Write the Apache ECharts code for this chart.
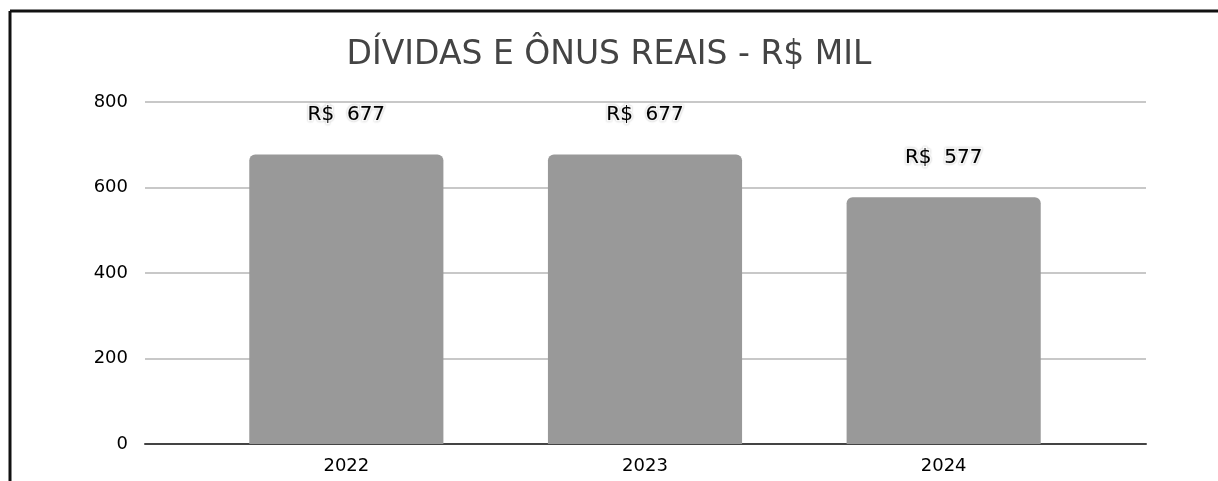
<!DOCTYPE html>
<html>
<head>
<meta charset="utf-8">
<script src="https://cdn.jsdelivr.net/npm/echarts@6/dist/echarts.min.js"></script>
<style>
  html, body { margin: 0; padding: 0; background: #fff; }
  #main { width: 1218px; height: 481px; }
</style>
</head>
<body>
<div id="main"></div>
<script>
// dados
const anos = ['2022', '2023', '2024']
const valores = [677, 677, 577]
const ticksY = [0, 200, 400, 600, 800]

let chart = echarts.init(document.getElementById('main'))
chart.setOption({
  animation: false,
  backgroundColor: '#fff',
  title: {
    text: 'DÍVIDAS E ÔNUS REAIS - R$ MIL',
    left: 'center',
    top: 34,
    textStyle: {
      fontFamily: 'DejaVu Sans',
      fontWeight: 'normal',
      fontSize: 33,
      color: '#444'
    }
  },
  // moldura só à esquerda e em cima
  graphic: [
    { type: 'line', shape: { x1: 10, y1: 11, x2: 1218, y2: 11 }, style: { stroke: '#111', lineWidth: 3 } },
    { type: 'line', shape: { x1: 10, y1: 11, x2: 10, y2: 481 }, style: { stroke: '#111', lineWidth: 3 } }
  ],
  // grade 0: linhas e eixo Y; grade 1: barras (mais estreita)
  grid: [
    { left: 145, right: 72, top: 102, bottom: 37 },
    { left: 197, right: 125, top: 102, bottom: 37 }
  ],
  xAxis: [
    {
      gridIndex: 0,
      type: 'category',
      data: [''],
      axisLine: { lineStyle: { color: '#444', width: 2 } },
      axisTick: { show: false },
      axisLabel: { show: false }
    },
    {
      gridIndex: 1,
      type: 'category',
      data: anos,
      axisLine: { show: false },
      axisTick: { show: false },
      axisLabel: { color: '#000', fontSize: 18, fontFamily: 'DejaVu Sans', margin: 13 }
    }
  ],
  yAxis: [
    {
      gridIndex: 0,
      type: 'value',
      min: ticksY[0],
      max: ticksY[ticksY.length - 1],
      interval: 200,
      axisLabel: { color: '#000', fontSize: 18, fontFamily: 'DejaVu Sans', margin: 17 },
      splitLine: { lineStyle: { color: '#c8c8c8', width: 2 } }
    },
    {
      gridIndex: 1,
      type: 'value',
      min: ticksY[0],
      max: ticksY[ticksY.length - 1],
      interval: 200,
      show: false,
      splitLine: { show: false }
    }
  ],
  series: [
    {
      type: 'bar',
      xAxisIndex: 1,
      yAxisIndex: 1,
      data: valores,
      barWidth: '65%',
      itemStyle: { color: '#999999', borderRadius: [6, 6, 0, 0] },
      label: {
        show: true,
        position: 'top',
        distance: 30,
        formatter: p => 'R$  ' + p.value,
        color: '#000',
        fontSize: 20,
        fontFamily: 'DejaVu Sans',
        textBorderColor: '#fff',
        textBorderWidth: 3,
        textShadowColor: '#bbb',
        textShadowBlur: 2
      }
    }
  ]
})
</script>
</body>
</html>
